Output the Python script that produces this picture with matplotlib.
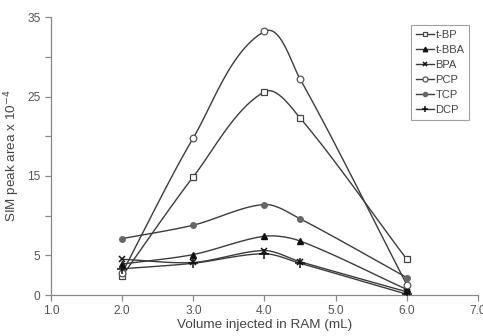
import numpy as np
import matplotlib.pyplot as plt

plt.rcParams['font.family'] = ['Liberation Sans', 'DejaVu Sans']

volume = [2.0, 3.0, 4.0, 4.5, 6.0]
t_bp = [2.4, 14.9, 25.6, 22.3, 4.5]
t_bba = [3.9, 5.1, 7.4, 6.8, 0.7]
bpa = [4.5, 4.1, 5.6, 4.2, 0.4]
pcp = [2.8, 19.8, 33.2, 27.2, 1.3]
tcp = [7.1, 8.8, 11.4, 9.6, 2.2]
dcp = [3.3, 4.0, 5.2, 4.0, 0.1]

x_ticks = [1.0, 2.0, 3.0, 4.0, 5.0, 6.0, 7.0]
y_ticks = [0, 5, 10, 15, 20, 25, 30, 35]
y_labels = ['0', '5', '', '15', '', '25', '', '35']

XLIM = (1.0, 7.0)
YLIM = (0, 35)


def smooth(xs, ys, n=30, k=0.3):
    # excel-like smoothed line, worked out in roughly pixel-shaped space
    sx, sy = 427.0 / (XLIM[1] - XLIM[0]), 278.0 / (YLIM[1] - YLIM[0])
    p = np.column_stack([np.array(xs) * sx, np.array(ys) * sy])
    m = len(p)
    tang = []
    for i in range(m):
        a = p[max(i - 1, 0)]
        b = p[min(i + 1, m - 1)]
        d = b - a
        tang.append(d / np.linalg.norm(d))
    out = []
    for i in range(m - 1):
        p1, p2 = p[i], p[i + 1]
        L = np.linalg.norm(p2 - p1)
        c1 = p1 + tang[i] * L * k
        c2 = p2 - tang[i + 1] * L * k
        t = np.linspace(0, 1, n)[:, None]
        seg = ((1 - t) ** 3) * p1 + 3 * ((1 - t) ** 2) * t * c1 + 3 * (1 - t) * t ** 2 * c2 + t ** 3 * p2
        out.append(seg if i == 0 else seg[1:])
    s = np.vstack(out)
    return s[:, 0] / sx, s[:, 1] / sy


fig = plt.figure(figsize=(4.83, 3.36), dpi=100)
ax = fig.add_axes([0.1056, 0.122, 0.884, 0.827])

line_col = '#3c3c3c'
series = [
    ('t-BP', t_bp, dict(marker='s', ms=4.8, mfc='white', mec='#444444', mew=0.9)),
    ('t-BBA', t_bba, dict(marker='^', ms=4.3, mfc='#111111', mec='#111111')),
    ('BPA', bpa, dict(marker='x', ms=4.5, mec='#111111', mew=1.1)),
    ('PCP', pcp, dict(marker='o', ms=4.8, mfc='white', mec='#555555', mew=0.9)),
    ('TCP', tcp, dict(marker='o', ms=4, mfc='#666666', mec='#666666')),
    ('DCP', dcp, dict(marker='+', ms=6.5, mec='#111111', mew=1.1)),
]

for name, vals, st in series:
    sx, sy = smooth(volume, vals)
    ax.plot(sx, sy, color=line_col, lw=1.0, zorder=2)
    ax.plot(volume, vals, ls='none', zorder=3, **st)
    lst = dict(st)
    lst['ms'] = st['ms'] * 0.75
    ax.plot([], [], color=line_col, lw=1.0, label=name, **lst)

ax.set_xlim(*XLIM)
ax.set_ylim(*YLIM)
ax.set_xticks(x_ticks)
ax.set_xticklabels(['%.1f' % v for v in x_ticks])
ax.set_yticks(y_ticks)
ax.set_yticklabels(y_labels)

for s in ['top', 'right']:
    ax.spines[s].set_visible(False)
for s in ['left', 'bottom']:
    ax.spines[s].set_color('#888888')
    ax.spines[s].set_linewidth(0.9)
ax.tick_params(colors='#888888', labelcolor='#555555', labelsize=8.6, length=4, width=0.9)

ax.set_xlabel('Volume injected in RAM (mL)', fontsize=9.7, color='#444444', labelpad=1)
ax.set_ylabel('SIM peak area x 10$^{-4}$', fontsize=9.7, color='#444444', labelpad=4)

leg = ax.legend(loc='upper left', bbox_to_anchor=(0.843, 0.971), borderaxespad=0,
                fontsize=8, frameon=True, fancybox=False, edgecolor='#888888',
                handlelength=1.6, handletextpad=0.15, labelspacing=0.45, borderpad=0.45)
leg.get_frame().set_linewidth(0.8)
for t in leg.get_texts():
    t.set_color('#444444')

fig.savefig('out.png', dpi=100)
